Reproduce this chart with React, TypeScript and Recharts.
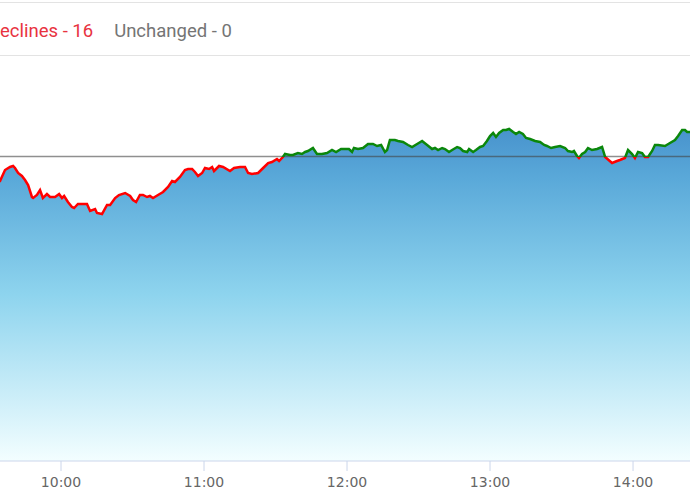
import React from "react";
import { ComposedChart, Area, Line, XAxis, YAxis, ReferenceLine } from "recharts";

// minutes since 09:30
const minutes = [
  0, 4.4, 6.5, 8.6, 9.9, 10.7, 12.0, 13.6, 14.9, 16.2, 17.8, 18.3, 19.9, 21.2, 22.4, 24.1, 25.4, 27.5, 29.2, 30.4,
  31.3, 32.9, 34.6, 35.5, 37.1, 40.9, 42.2, 44.3, 45.1, 47.2, 49.3, 50.6, 52.7, 54.3, 56.9, 59.0, 60.2, 61.5, 63.1, 64.4,
  66.1, 67.3, 68.6, 70.7, 72.8, 74.9, 76.6, 77.8, 79.9, 82.0, 83.3, 85.0, 86.2, 87.5, 89.2, 90.4, 92.1, 93.4, 94.2, 96.3,
  98.0, 100.9, 102.6, 105.1, 107.2, 108.5, 110.1, 112.7, 114.8, 116.9, 118.5, 120.6, 121.5, 123.1, 124.0, 126.1, 127.3, 129.4, 131.1, 132.4,
  133.6, 135.7, 137.4, 139.5, 141.6, 143.7, 145.4, 147.5, 149.6, 150.8, 152.1, 152.9, 154.6, 156.7, 158.8, 160.9, 162.6, 164.3, 165.9, 166.8,
  168.0, 170.1, 171.4, 173.5, 175.6, 177.3, 179.4, 181.5, 183.6, 185.7, 186.9, 188.2, 189.9, 191.1, 192.8, 194.1, 196.2, 197.4, 198.7, 200.4,
  201.2, 202.9, 204.1, 205.8, 207.1, 208.7, 210.0, 211.3, 212.5, 213.8, 215.5, 216.7, 218.0, 219.7, 220.9, 222.2, 223.8, 225.1, 226.8, 228.9,
  231.0, 232.7, 233.9, 235.6, 237.3, 239.4, 241.5, 242.7, 244.4, 245.2, 246.5, 247.3, 248.6, 249.9, 251.1, 252.8, 254.9, 257.0, 258.3, 261.2,
  263.3, 264.5, 266.6, 267.9, 269.6, 270.8, 272.1, 273.8, 275.0, 276.3, 278.0, 279.2, 280.5, 283.4, 285.5, 287.6, 288.9, 290.6, 291.8, 292.7,
  293.9, 295.0,
];

const prices = [
  3137, 3140, 3145.5, 3147, 3147.5, 3146.5, 3144, 3142.5, 3140.5, 3138, 3132, 3131.5, 3133, 3135.5, 3131.5, 3133.5, 3132, 3132, 3133.5, 3131.5,
  3132.5, 3129.5, 3127, 3126.5, 3128.5, 3128.5, 3125, 3126, 3124, 3123.5, 3128, 3128, 3131.5, 3133, 3134, 3132.5, 3130.5, 3129.5, 3133, 3133,
  3132, 3132.5, 3131.5, 3133, 3134.5, 3137, 3140, 3139.5, 3142, 3145.5, 3146, 3146, 3144.5, 3142.5, 3144, 3146.5, 3146, 3147, 3145, 3147.5,
  3147, 3145, 3146.5, 3147, 3147, 3144, 3143.5, 3144, 3146.5, 3149, 3149.5, 3151, 3150, 3152, 3153.5, 3153, 3153, 3154, 3153.5, 3154.5,
  3155, 3156.5, 3153.5, 3153.5, 3154, 3155.5, 3154.5, 3156, 3156, 3156, 3154.5, 3156.5, 3156, 3156.5, 3158.5, 3158.5, 3157.5, 3158, 3154.5, 3155.5,
  3160.5, 3160.5, 3160, 3159.5, 3158, 3157, 3158.5, 3160, 3158, 3156, 3156.5, 3155.5, 3156.5, 3156, 3154.5, 3155.5, 3157, 3156.5, 3155, 3154.5,
  3156, 3154.5, 3155.5, 3157, 3157.5, 3160, 3162.5, 3164, 3162, 3164, 3165.5, 3165.5, 3166, 3164.5, 3163.5, 3164.5, 3163.5, 3161.5, 3161, 3160,
  3159.5, 3158, 3157.5, 3156.5, 3157, 3157.5, 3156.5, 3155, 3154.5, 3155, 3152.5, 3151.5, 3153.5, 3154.5, 3156.5, 3155.5, 3156, 3157, 3152, 3149,
  3150, 3150.5, 3151.5, 3155.5, 3153.5, 3151.5, 3154.5, 3154, 3152, 3152, 3155, 3158, 3158, 3157.5, 3159, 3160.5, 3162.5, 3165.5, 3165.5, 3164.5,
  3164.5, 3164,
];

const prevClose = 3152.25;
const tickMinutes = [30, 90, 150, 210, 270];
const headerItems = [
  { label: "eclines - 16", color: "#e8333f" },
  { label: "Unchanged - 0", color: "#757575" },
];

const data = minutes.map((t, i) => ({ t, price: prices[i] }));
const maxV = Math.max(...prices);
const minV = Math.min(...prices);
const splitOff = (maxV - prevClose) / (maxV - minV);

const fmt = (t: number) => {
  const total = 9 * 60 + 30 + t;
  const h = Math.floor(total / 60);
  const m = Math.round(total % 60);
  return `${h}:${m < 10 ? "0" + m : m}`;
};

export default function App() {
  return (
    <div
      style={{
        position: "absolute",
        left: 0,
        top: 0,
        width: 690,
        height: 500,
        overflow: "hidden",
        background: "#fff",
        fontFamily: "Roboto, sans-serif",
      }}
    >
      <div style={{ position: "absolute", left: 0, top: 2, width: 690, height: 1, background: "#e3e3e3" }} />
      <div style={{ position: "absolute", left: 0, top: 55, width: 690, height: 1, background: "#e3e3e3" }} />
      <div
        style={{
          position: "absolute",
          left: 0,
          top: 21,
          display: "flex",
          whiteSpace: "nowrap",
          fontSize: 18.5,
          lineHeight: "21px",
        }}
      >
        {headerItems.map((h, i) => (
          <span key={i} style={{ color: h.color, marginRight: 21 }}>
            {h.label}
          </span>
        ))}
      </div>
      <div style={{ position: "absolute", left: 0, top: 0 }}>
        <ComposedChart width={690} height={500} data={data} margin={{ top: 61, right: 0, bottom: 9, left: 0 }}>
          <defs>
            <linearGradient id="areaFill" x1="0" y1="0" x2="0" y2="1">
              <stop offset="0%" stopColor="#4893cd" />
              <stop offset="15%" stopColor="#5aa9d9" />
              <stop offset="50%" stopColor="#8ed4ee" />
              <stop offset="100%" stopColor="#f3feff" />
            </linearGradient>
            <linearGradient id="lineSplit" x1="0" y1="0" x2="0" y2="1">
              <stop offset={splitOff} stopColor="#0b870b" />
              <stop offset={splitOff} stopColor="#ff0000" />
            </linearGradient>
          </defs>
          <XAxis
            dataKey="t"
            type="number"
            domain={[4.4, 293.9]}
            allowDataOverflow
            ticks={tickMinutes}
            tickFormatter={fmt}
            height={30}
            axisLine={{ stroke: "#ccd6eb" }}
            tickLine={{ stroke: "#ccd6eb" }}
            tickSize={10}
            tickMargin={6}
            tick={{ fill: "#666666", fontSize: 14, fontFamily: "DejaVu Sans" }}
          />
          <YAxis hide domain={[3000, 3200]} allowDataOverflow />
          <Area
            dataKey="price"
            type="linear"
            stroke="none"
            fill="url(#areaFill)"
            fillOpacity={1}
            isAnimationActive={false}
          />
          <ReferenceLine y={prevClose} stroke="#444444" strokeOpacity={0.6} strokeWidth={1.5} />
          <Line
            dataKey="price"
            type="linear"
            stroke="url(#lineSplit)"
            strokeWidth={2.5}
            dot={false}
            activeDot={false}
            isAnimationActive={false}
          />
        </ComposedChart>
      </div>
    </div>
  );
}
